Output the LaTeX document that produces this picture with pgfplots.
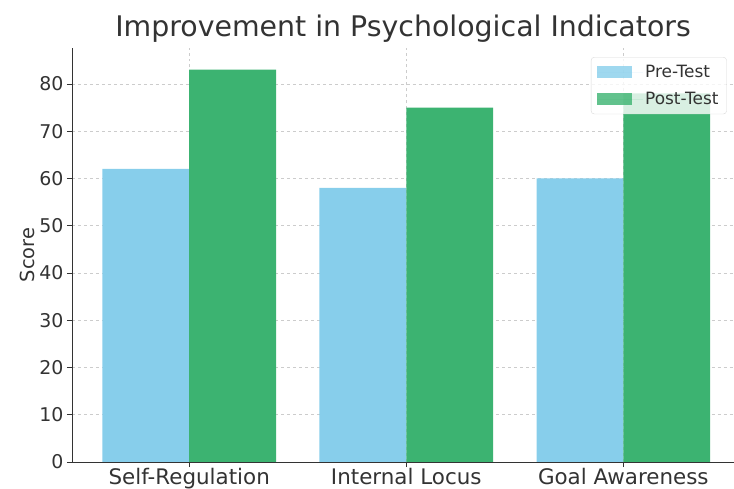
\documentclass[border=0pt]{standalone}
\usepackage{fontspec}
\setmainfont{DejaVu Sans}
\usepackage{pgfplots}
\pgfplotsset{compat=1.18}
\definecolor{pre}{HTML}{87CEEB}
\definecolor{post}{HTML}{3CB371}
\definecolor{txt}{HTML}{333333}
\begin{document}
\begin{tikzpicture}
\begin{axis}[
  at={(0,0)}, anchor=south west,
  scale only axis,
  width=662bp, height=414bp,
  xmin=-0.54, xmax=2.51,
  ymin=0, ymax=87.6,
  axis lines=left,
  axis line style={-, black!80, line width=0.9pt},
  xtick={0,1,2},
  xticklabels={Self-Regulation, Internal Locus, Goal Awareness},
  ytick={0,10,...,80},
  tick align=outside,
  major tick length=5bp,
  tick style={black!80, line width=0.8pt},
  /pgf/number format/assume math mode=true,
  ticklabel style={font=\fontsize{19}{22}\selectfont, text=txt},
  xticklabel style={font=\fontsize{21.5}{24}\selectfont, text=txt, yshift=2bp},
  grid=major,
  major grid style={dashed, gray!40, line width=0.6pt},
  ylabel={Score},
  ylabel style={font=\fontsize{19.5}{22}\selectfont, text=txt, yshift=-2bp},
  title={Improvement in Psychological Indicators},
  title style={font=\fontsize{28.5}{30}\selectfont, text=txt, yshift=-4bp},
  ybar=0pt,
  bar width=86.8bp,
  legend style={at={(0.989,0.978)}, anchor=north east,
    font=\fontsize{17}{20}\selectfont, text=txt,
    draw=gray!30, rounded corners=3bp, fill=white, fill opacity=0.8, text opacity=1,
    row sep=9bp, inner xsep=6bp, inner ysep=6bp},
  legend image code/.code={\fill[#1, sharp corners] (0bp,-6bp) rectangle (35bp,6bp); \path (0bp,0bp) -- (46bp,0bp);},
  legend cell align=left,
]
\addplot[fill=pre, draw=none, bar shift=-43.4bp] coordinates {(0,62) (1,58) (2,60)};
\addplot[fill=post, draw=none, bar shift=43.4bp] coordinates {(0,83) (1,75) (2,78)};
\legend{Pre-Test, Post-Test}
\end{axis}
\pgfresetboundingbox
\path[use as bounding box] (-72bp,-27bp) rectangle (662bp,462bp);
\end{tikzpicture}
\end{document}
